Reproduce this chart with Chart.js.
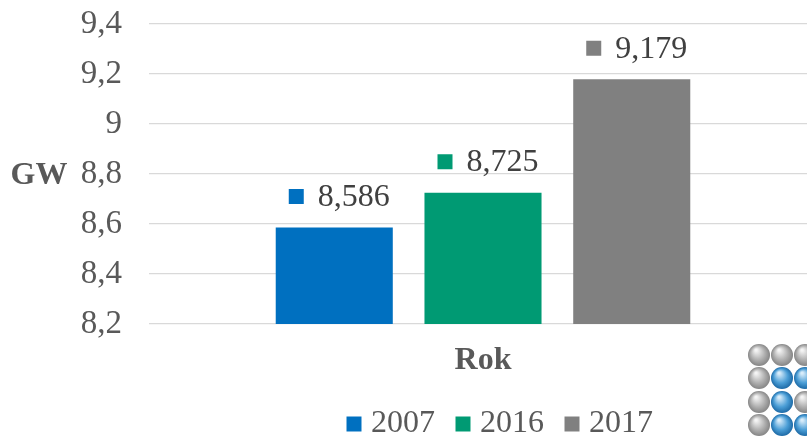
<!DOCTYPE html>
<html><head><meta charset="utf-8">
<script src="https://cdn.jsdelivr.net/npm/chart.js@4"></script>
<style>html,body{margin:0;padding:0;overflow:hidden;background:#fff}</style></head>
<body><canvas id="c" width="1006" height="450"></canvas>
<script>
const categories = [''];
const years = ['2007', '2016', '2017'];
const values = [8.586, 8.725, 9.179];
const colors = ['#0070C0', '#009A73', '#808080'];
const yMin = 8.2, yMax = 9.4, yStep = 0.2;
const yTitle = 'GW';
const xTitle = 'Rok';

const SERIF = '"Liberation Serif", "Times New Roman", serif';
const fmt = (v, d) => (d === undefined ? String(Math.round(v * 10) / 10) : v.toFixed(d)).replace('.', ',');

const labelPlugin = {
  id: 'valueLabels',
  afterDatasetsDraw(chart) {
    const ctx = chart.ctx;
    ctx.save();
    ctx.font = '32px ' + SERIF;
    ctx.textBaseline = 'middle';
    ctx.textAlign = 'left';
    chart.data.datasets.forEach((ds, i) => {
      const meta = chart.getDatasetMeta(i);
      meta.data.forEach((bar, j) => {
        const txt = fmt(ds.data[j], 3);
        const tw = ctx.measureText(txt).width;
        const box = 15, gap = 14;
        const total = box + gap + tw;
        const x0 = bar.x - total / 2 + 5;
        const yc = bar.y - 31;
        ctx.fillStyle = ds.backgroundColor;
        ctx.fillRect(x0, yc - box / 2, box, box);
        ctx.fillStyle = '#404040';
        ctx.fillText(txt, x0 + box + gap, yc + 1);
      });
    });
    ctx.restore();
  }
};

const yTitlePlugin = {
  id: 'yTitleFlat',
  afterDraw(chart) {
    const ctx = chart.ctx, ys = chart.scales.y;
    ctx.save();
    ctx.font = 'bold 32px ' + SERIF;
    ctx.fillStyle = '#595959';
    ctx.textAlign = 'center';
    ctx.textBaseline = 'middle';
    ctx.fillText(yTitle, 39, ys.getPixelForValue((yMin + yMax) / 2) + 2);
    ctx.restore();
  }
};

const logoPlugin = {
  id: 'logo',
  afterDraw(chart) {
    const ctx = chart.ctx;
    const pattern = [['g','g','g'], ['g','b','b'], ['g','b','g'], ['g','b','b']];
    const xs = [759, 782, 805], ysP = [355, 378, 402, 425], r = 11;
    ctx.save();
    pattern.forEach((row, ri) => row.forEach((c, ci) => {
      const x = xs[ci], y = ysP[ri];
      const g = ctx.createRadialGradient(x - 3, y - 5, 1, x, y, r);
      if (c === 'g') { g.addColorStop(0, '#f4f4f4'); g.addColorStop(0.6, '#b0b0b0'); g.addColorStop(1, '#858585'); }
      else { g.addColorStop(0, '#d8ecfa'); g.addColorStop(0.6, '#4b9ed6'); g.addColorStop(1, '#1d6aa6'); }
      ctx.fillStyle = g;
      ctx.beginPath(); ctx.arc(x, y, r, 0, Math.PI * 2); ctx.fill();
    }));
    ctx.restore();
  }
};

new Chart(document.getElementById('c'), {
  type: 'bar',
  data: {
    labels: categories,
    datasets: years.map((y, i) => ({
      label: y,
      data: [values[i]],
      backgroundColor: colors[i],
      borderWidth: 0,
      categoryPercentage: 0.668,
      barPercentage: 0.787
    }))
  },
  options: {
    responsive: false,
    animation: false,
    layout: { padding: 0 },
    plugins: {
      legend: {
        position: 'bottom',
        labels: {
          usePointStyle: true, pointStyle: 'rect',
          boxWidth: 2, boxHeight: 15, padding: 27,
          color: '#595959',
          font: { family: SERIF, size: 32 }
        }
      },
      tooltip: { enabled: false }
    },
    scales: {
      x: {
        grid: { display: false, drawTicks: false },
        border: { display: false },
        ticks: { display: false },
        title: {
          display: true, text: xTitle, color: '#595959',
          font: { family: SERIF, size: 32, weight: 'bold', lineHeight: 1 },
          padding: { top: 21, bottom: 4 }
        }
      },
      y: {
        min: yMin, max: yMax,
        afterFit: s => { s.width = 149; s.paddingTop = 24; s.paddingBottom = 20; },
        border: { display: false },
        grid: { color: '#D9D9D9', lineWidth: 1.3, drawTicks: false },
        ticks: {
          stepSize: yStep, padding: 27, color: '#595959',
          font: { family: SERIF, size: 33 },
          callback: v => fmt(v)
        }
      },
      yRight: {
        type: 'linear', position: 'right',
        afterFit: s => { s.width = 189; },
        border: { display: false },
        grid: { drawOnChartArea: false, drawTicks: false, display: false },
        ticks: { display: false }
      }
    }
  },
  plugins: [labelPlugin, yTitlePlugin, logoPlugin]
});
</script>
</body></html>
